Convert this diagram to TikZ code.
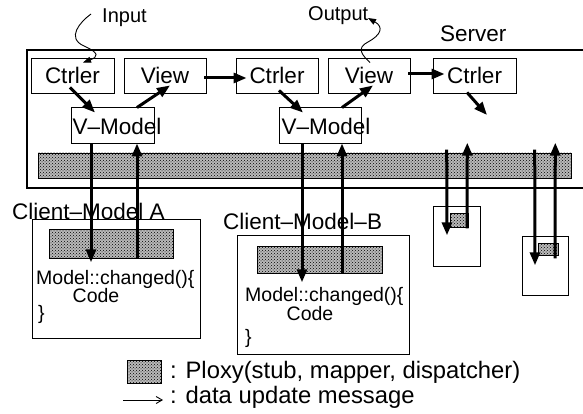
\documentclass[tikz,border=0pt]{standalone}
\usepackage{fontspec}
\setmainfont{Liberation Sans}
\usetikzlibrary{arrows.meta,calc,patterns}
\begin{document}
\begin{tikzpicture}[x=1pt,y=-1pt,
  box/.style={draw,line width=0.9pt,inner sep=0pt,minimum height=35,minimum width=82,
    font=\fontsize{22.5}{26}\selectfont},
  hatch/.style={draw,line width=0.6pt,inner sep=0pt,preaction={fill=gray!55},
    pattern=crosshatch dots,pattern color=black},
  lbl/.style={font=\fontsize{22.5}{26}\selectfont,inner sep=0pt,anchor=base west},
  sml/.style={font=\fontsize{20}{24}\selectfont,inner sep=0pt,anchor=base west},
  code/.style={font=\fontsize{19.5}{23}\selectfont,inner sep=0pt,anchor=base west},
  leg/.style={font=\fontsize{23.8}{28}\selectfont,inner sep=0pt,anchor=base west},
  arr/.style={line width=3pt,-{Triangle[length=13pt,width=10pt]}},
  wavy/.style={line width=0.9pt,-{Triangle[length=8pt,width=6pt]}}]
\useasboundingbox (0,0) rectangle (583,414);
\clip (0,0) rectangle (583,414);

% server frame (runs off the right edge)
\node[draw,line width=1.1pt,inner sep=0pt,minimum width=573,minimum height=138] (srv) at (313.5,119) {};
\node[lbl] (srvl) at (440,42) {Server};

% controllers and views
\node[box,minimum width=83] (c1) at (72.5,75.5) {Ctrler};
\node[box] (v1) at (165,75.5) {View};
\node[box] (c2) at (277,75.5) {Ctrler};
\node[box] (v2) at (369,75.5) {View};
\node[box,minimum width=83] (c3) at (474.5,75.5) {Ctrler};

% view models
\node[box,minimum width=83,minimum height=36] (vm1) at (112.5,125) {};
\node[box,minimum width=82,minimum height=36] (vm2) at (320,125) {};
\node[lbl,anchor=base] (vm1l) at (117,135) {V–Model};
\node[lbl,anchor=base] (vm2l) at (326,135) {V–Model};

% proxy bar
\node[hatch,minimum width=533,minimum height=25] (bar) at (304.5,165.5) {};

% client models
\node[box,minimum width=168,minimum height=119] (ca) at (116,278.5) {};
\node[hatch,minimum width=124,minimum height=29] (pa) at (111,243.5) {};
\node[lbl] (cal) at (12,219) {Client–Model A};
\node[code] (ca1) at (36,284) {Model::changed()\{};
\node[code,anchor=base] (ca2) at (96,302) {Code};
\node[code] (ca3) at (38,319) {\}};

\node[box,minimum width=172,minimum height=119] (cb) at (323,294.5) {};
\node[hatch,minimum width=125,minimum height=27] (pb) at (319.5,259.5) {};
\node[lbl] (cbl) at (223,229) {Client–Model–B};
\node[code] (cb1) at (245,301) {Model::changed()\{};
\node[code,anchor=base] (cb2) at (310,320) {Code};
\node[code] (cb3) at (245,343) {\}};

% small clients
\node[box,minimum width=47,minimum height=60] (sa) at (456.5,236) {};
\node[hatch,minimum width=18,minimum height=14] (qa) at (459,220) {};
\node[box,minimum width=46,minimum height=59] (sb) at (545,265.5) {};
\node[hatch,minimum width=20,minimum height=12] (qb) at (548,249) {};

% input / output
\node[sml] (inl) at (102,23) {Input};
\node[sml] (outl) at (308,21) {Output};
\coordinate (inA) at (91,14);
\coordinate (outB) at (368,18);
\draw[wavy] (inA) .. controls (80,22) and (66,38) .. (84,46)
  .. controls (100,53) and (98,57) .. ($(c1.north)+(10.5,5)$);
\draw[wavy] ($(v2.north)+(1,5)$) .. controls (362,55) and (356,48) .. (368,42)
  .. controls (381,35) and (384,27) .. (outB);

% update flow among controllers, view models and views
\draw[arr] ($(c1.south)+(-2.5,-6)$) -- ($(vm1.north)+(-17.5,6)$);
\draw[arr] ($(vm1.north)+(24.5,1)$) -- ($(v1.south)+(5,-8)$);
\draw[arr] ($(v1.east)+(-2,2.5)$) -- ($(c2.west)+(11,2.5)$);
\draw[arr] ($(c2.south)+(2,-3)$) -- ($(vm2.north)+(-17,6)$);
\draw[arr] ($(vm2.north)+(22,1)$) -- ($(v2.south)+(4,-8)$);
\draw[arr] ($(v2.east)+(-2,-1.5)$) -- ($(c3.west)+(12,-1.5)$);
\coordinate (c3out) at (487,115);
\draw[arr] ($(c3.south)+(-7.5,-1)$) -- (c3out);

% messages between server and clients
\draw[arr] ($(vm1.south)+(-21.5,0)$) -- ($(pa.south)+(-20,4)$);
\draw[arr] ($(pa.south)+(26,0)$) -- ($(vm1.south)+(24.5,0)$);
\draw[arr] ($(vm2.south)+(-18,0)$) -- ($(pb.south)+(-17.5,9)$);
\draw[arr] ($(pb.south)+(22.5,0)$) -- ($(vm2.south)+(22,0)$);
\draw[arr] ($(bar.north -| qa.west)+(-3,-3)$) -- ($(qa.south)+(-12,8)$);
\draw[arr] ($(qa.south)+(8,1)$) -- ($(bar.north -| qa.east)+(-1,-10)$);
\draw[arr] ($(bar.north -| qb.west)+(-3,-3)$) -- ($(qb.south)+(-13,10)$);
\draw[arr] ($(qb.south)+(7,3)$) -- ($(bar.north -| qb.east)+(-3,-10)$);

% legend
\node[hatch,minimum width=34,minimum height=23] (lsq) at (144,371.5) {};
\node[leg] (ll1) at (170,378) {: Ploxy(stub, mapper, dispatcher)};
\coordinate (la) at (123,400);
\coordinate (lb) at (163,400);
\draw[line width=0.9pt,-{Straight Barb[length=6pt,width=7pt]}] (la) -- (lb);
\node[leg] (ll2) at (170,403) {: data update message};
\end{tikzpicture}
\end{document}
